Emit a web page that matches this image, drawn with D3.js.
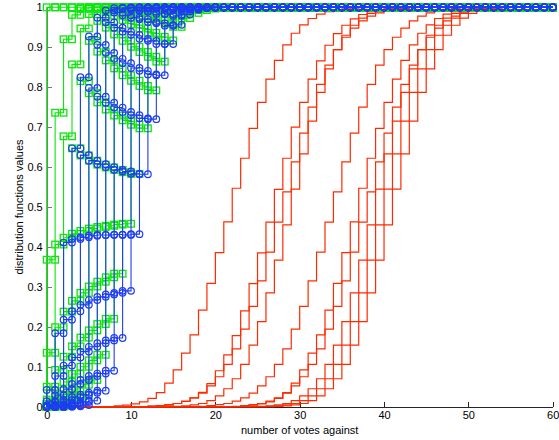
<!DOCTYPE html>
<html lang="en">
<head>
<meta charset="utf-8">
<script src="https://d3js.org/d3.v7.min.js"></script>
<style type="text/css">
body {
	margin: 0;
	background-color: #fff;
	font: 11px "Liberation Sans", Arial, sans-serif;
}
.axis text {
	font: 11px "Liberation Sans", Arial, sans-serif;
	fill: #000;
}
.axis line, .axis path {
	fill: none;
	shape-rendering: crispEdges;
}
</style>
</head>
<body>
<div class="chart"></div>
<script type="text/javascript">
// tick labels
var xTicks = [0, 10, 20, 30, 40, 50, 60];
var yTicks = [0, 0.1, 0.2, 0.3, 0.4, 0.5, 0.6, 0.7, 0.8, 0.9, 1];

// green squares: cdf values read from x = 0 (value 1 after the list)
var green0 = [1];
var green1 = [0.368, 0.736, 0.920, 0.981, 0.996, 0.999];
var green2 = [0.135, 0.406, 0.677, 0.857, 0.947, 0.983, 0.995, 0.999];
var green3 = [0.050, 0.199, 0.423, 0.647, 0.815, 0.916, 0.966, 0.988, 0.996, 0.999];
var green4 = [0.018, 0.092, 0.238, 0.433, 0.629, 0.785, 0.889, 0.949, 0.979, 0.992, 0.997, 0.999];
var green5 = [0.007, 0.040, 0.125, 0.265, 0.440, 0.616, 0.762, 0.867, 0.932, 0.968, 0.986, 0.995, 0.998, 0.999];
var green6 = [0.002, 0.017, 0.062, 0.151, 0.285, 0.446, 0.606, 0.744, 0.847, 0.916, 0.957, 0.980, 0.991, 0.996, 0.999];
var green7 = [0.001, 0.007, 0.030, 0.082, 0.173, 0.301, 0.450, 0.599, 0.729, 0.830, 0.901, 0.947, 0.973, 0.987, 0.994, 0.998, 0.999];
var green8 = [0.000, 0.003, 0.014, 0.042, 0.100, 0.191, 0.313, 0.453, 0.593, 0.717, 0.816, 0.888, 0.936, 0.966, 0.983, 0.992, 0.996, 0.998, 0.999];
var green9 = [0.000, 0.001, 0.006, 0.021, 0.055, 0.116, 0.207, 0.324, 0.456, 0.587, 0.706, 0.803, 0.876, 0.926, 0.959, 0.978, 0.989, 0.995, 0.998, 0.999];
var green10 = [0.000, 0.000, 0.003, 0.010, 0.029, 0.067, 0.130, 0.220, 0.333, 0.458, 0.583, 0.697, 0.792, 0.864, 0.917, 0.951, 0.973, 0.986, 0.993, 0.997, 0.998, 0.999];

// blue circles: cdf values read from x = 0
var blue3 = [0.042, 0.184, 0.411, 0.647, 0.825, 0.927, 0.974, 0.992, 0.998, 0.999];
var blue4 = [0.014, 0.077, 0.218, 0.420, 0.630, 0.798, 0.906, 0.962, 0.987, 0.997, 0.999];
var blue5 = [0.004, 0.029, 0.103, 0.239, 0.424, 0.616, 0.776, 0.886, 0.949, 0.980, 0.993, 0.998, 0.999];
var blue6 = [0.001, 0.011, 0.044, 0.123, 0.255, 0.428, 0.607, 0.761, 0.871, 0.939, 0.974, 0.991, 0.997, 0.999];
var blue7 = [0.000, 0.004, 0.017, 0.057, 0.138, 0.267, 0.430, 0.600, 0.749, 0.860, 0.931, 0.970, 0.989, 0.997, 0.999];
var blue8 = [0.000, 0.001, 0.006, 0.024, 0.067, 0.150, 0.275, 0.430, 0.593, 0.738, 0.848, 0.921, 0.963, 0.984, 0.994, 0.998, 0.999];
var blue9 = [0.000, 0.000, 0.002, 0.009, 0.030, 0.077, 0.159, 0.281, 0.431, 0.589, 0.730, 0.841, 0.916, 0.960, 0.983, 0.994, 0.998, 0.999];
var blue10 = [0.000, 0.000, 0.001, 0.003, 0.012, 0.035, 0.083, 0.166, 0.285, 0.430, 0.583, 0.722, 0.832, 0.908, 0.954, 0.979, 0.990, 0.995, 0.998, 0.999];
var blue11 = [0.000, 0.000, 0.000, 0.001, 0.004, 0.015, 0.040, 0.090, 0.172, 0.290, 0.432, 0.582, 0.720, 0.830, 0.908, 0.956, 0.982, 0.994, 0.998, 0.999];

// red stairs: first x of each list, then values (0 before, 1 after)
var redStart = [8, 13, 12, 15, 18, 23, 22, 25, 26, 27];
var red1 = [0.002, 0.004, 0.007, 0.012, 0.021, 0.035, 0.059, 0.092, 0.134, 0.180, 0.242, 0.309, 0.386, 0.463, 0.547, 0.622, 0.697, 0.762, 0.820, 0.867, 0.906, 0.935, 0.956, 0.972, 0.983, 0.989, 0.993, 0.996, 0.998, 0.999];
var red2 = [0.002, 0.004, 0.008, 0.013, 0.022, 0.036, 0.058, 0.090, 0.130, 0.178, 0.240, 0.308, 0.385, 0.462, 0.544, 0.622, 0.700, 0.762, 0.820, 0.866, 0.905, 0.934, 0.955, 0.971, 0.982, 0.989, 0.993, 0.996, 0.998, 0.999];
var red3 = [0.002, 0.003, 0.005, 0.008, 0.014, 0.022, 0.034, 0.052, 0.075, 0.106, 0.145, 0.194, 0.251, 0.315, 0.387, 0.462, 0.538, 0.613, 0.685, 0.750, 0.807, 0.855, 0.894, 0.925, 0.948, 0.966, 0.978, 0.986, 0.992, 0.995, 0.997, 0.999];
var red4 = [0.001, 0.002, 0.0045, 0.008, 0.015, 0.027, 0.045, 0.070, 0.106, 0.154, 0.213, 0.285, 0.367, 0.455, 0.545, 0.633, 0.715, 0.787, 0.846, 0.894, 0.930, 0.955, 0.973, 0.985, 0.992, 0.996, 0.998, 0.999];
var red5 = [0.001, 0.003, 0.005, 0.008, 0.014, 0.022, 0.034, 0.052, 0.075, 0.106, 0.145, 0.194, 0.251, 0.315, 0.387, 0.462, 0.538, 0.613, 0.685, 0.750, 0.807, 0.855, 0.894, 0.925, 0.948, 0.966, 0.978, 0.986, 0.992, 0.995, 0.997, 0.999];
var red6 = [0.002, 0.004, 0.007, 0.012, 0.021, 0.035, 0.059, 0.092, 0.134, 0.180, 0.242, 0.309, 0.386, 0.463, 0.547, 0.622, 0.697, 0.762, 0.820, 0.867, 0.906, 0.935, 0.956, 0.972, 0.983, 0.989, 0.993, 0.996, 0.998, 0.999];
var red7 = [0.001, 0.003, 0.005, 0.008, 0.014, 0.022, 0.034, 0.052, 0.075, 0.106, 0.145, 0.194, 0.251, 0.315, 0.387, 0.462, 0.538, 0.613, 0.685, 0.750, 0.807, 0.855, 0.894, 0.925, 0.948, 0.966, 0.978, 0.986, 0.992, 0.995, 0.997, 0.999];
var red8 = [0.001, 0.002, 0.0045, 0.008, 0.015, 0.027, 0.045, 0.070, 0.106, 0.154, 0.213, 0.285, 0.367, 0.455, 0.545, 0.633, 0.715, 0.787, 0.846, 0.894, 0.930, 0.955, 0.973, 0.985, 0.992, 0.996, 0.998, 0.999];
var red9 = [0.001, 0.002, 0.0045, 0.008, 0.015, 0.027, 0.045, 0.070, 0.106, 0.154, 0.213, 0.285, 0.367, 0.455, 0.545, 0.633, 0.715, 0.787, 0.846, 0.894, 0.930, 0.955, 0.973, 0.985, 0.992, 0.996, 0.998, 0.999];
var red10 = [0.001, 0.002, 0.0045, 0.008, 0.015, 0.027, 0.045, 0.070, 0.106, 0.154, 0.213, 0.285, 0.367, 0.455, 0.545, 0.633, 0.715, 0.787, 0.846, 0.894, 0.930, 0.955, 0.973, 0.985, 0.992, 0.996, 0.998, 0.999];

var greenList = [green0, green1, green2, green3, green4, green5, green6, green7, green8, green9, green10];
var blueList = [blue3, blue4, blue5, blue6, blue7, blue8, blue9, blue10, blue11];
var redList = [red1, red2, red3, red4, red5, red6, red7, red8, red9, red10];

var width = 559;
var height = 440;
var margin = {top: 7.3, right: 6.3, bottom: 33.3, left: 46.7};
var xMax = 60;

var greenColor = '#0ae60a';
var blueColor = '#1e3cf5';
var redColor = '#ff2a00';

var x = d3.scaleLinear().domain([0, xMax]).range([margin.left, width - margin.right]);
var y = d3.scaleLinear().domain([0, 1]).range([height - margin.bottom, margin.top]);

var svg = d3.select(".chart")
	.append("svg")
	.attr("width", width)
	.attr("height", height);

// one value per integer x from 0 to xMax
function fullSeries(vals, start) {
	var pts = [];
	for (var k = 0; k <= xMax; k++) {
		var v;
		if (k < start) v = 0;
		else if (k - start < vals.length) v = vals[k - start];
		else v = 1;
		pts.push([k, v]);
	}
	return pts;
}

var stairs = d3.line()
	.x(function(d) { return x(d[0]); })
	.y(function(d) { return y(d[1]); })
	.curve(d3.curveStepAfter);

// axes first, data drawn over them
var xAxis = d3.axisBottom(x).tickValues(xTicks).tickSizeInner(-5).tickSizeOuter(0).tickPadding(5);
var yAxis = d3.axisLeft(y).tickValues(yTicks).tickSizeInner(-5).tickSizeOuter(0).tickPadding(4)
	.tickFormat(function(d) { return d3.format("")(+d.toFixed(1)); });

var gx = svg.append("g")
	.attr("class", "x axis")
	.attr("transform", "translate(0," + y(0) + ")")
	.call(xAxis);
gx.selectAll("path, line").style("stroke", "#262626");

var gy = svg.append("g")
	.attr("class", "y axis")
	.attr("transform", "translate(" + x(0) + ",0)")
	.call(yAxis);
gy.selectAll("path, line").style("stroke", "#7a7a7a");

// red stairs, no markers
var gRed = svg.append("g");
redList.forEach(function(vals, i) {
	gRed.append("path")
		.attr("d", stairs(fullSeries(vals, redStart[i])))
		.style("fill", "none")
		.style("stroke", redColor)
		.style("stroke-width", 1.2);
});

// stairs with a marker at every corner
function drawMarked(vals, color, shape) {
	var pts = fullSeries(vals, 0);
	var g = svg.append("g");
	g.append("path")
		.attr("d", stairs([[0, 0]].concat(pts)))
		.style("fill", "none")
		.style("stroke", color)
		.style("stroke-width", 1.1);
	var marks = [[0, 0]];
	pts.forEach(function(p, k) {
		marks.push(p);
		if (k > 0) marks.push([p[0], pts[k - 1][1]]);
	});
	if (shape === "square") {
		g.selectAll("rect")
			.data(marks)
			.enter()
			.append("rect")
			.attr("x", function(d) { return x(d[0]) - 3.3; })
			.attr("y", function(d) { return y(d[1]) - 3.3; })
			.attr("width", 6.6)
			.attr("height", 6.6)
			.style("fill", "none")
			.style("stroke", color)
			.style("stroke-width", 1.3);
	} else {
		g.selectAll("circle")
			.data(marks)
			.enter()
			.append("circle")
			.attr("cx", function(d) { return x(d[0]); })
			.attr("cy", function(d) { return y(d[1]); })
			.attr("r", 3.3)
			.style("fill", "none")
			.style("stroke", color)
			.style("stroke-width", 1.2);
	}
}

greenList.forEach(function(vals) { drawMarked(vals, greenColor, "square"); });
blueList.forEach(function(vals) { drawMarked(vals, blueColor, "circle"); });

// axis titles
svg.append("text")
	.attr("x", (x(0) + x(xMax)) / 2)
	.attr("y", 434)
	.attr("text-anchor", "middle")
	.style("font", "11px 'Liberation Sans', Arial, sans-serif")
	.text("number of votes against");

svg.append("text")
	.attr("transform", "translate(23," + (y(0) + y(1)) / 2 + ")rotate(-90)")
	.attr("text-anchor", "middle")
	.style("font", "11px 'Liberation Sans', Arial, sans-serif")
	.text("distribution functions values");
</script>
</body>
</html>
